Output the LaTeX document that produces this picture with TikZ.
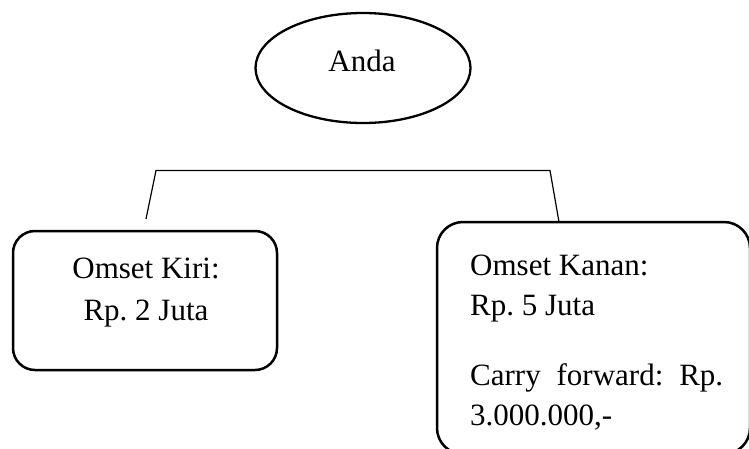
\documentclass[tikz,border=0pt]{standalone}
\usepackage{fontspec}
\setmainfont{Liberation Serif}
\usetikzlibrary{shapes.geometric}
\frenchspacing
\begin{document}
\begin{tikzpicture}[x=1pt,y=-1pt,
  lbl/.style={font=\fontsize{31}{38}\selectfont, inner sep=0pt, anchor=base},
  lbll/.style={lbl, anchor=base west},
  box/.style={draw, line width=2.5pt, inner sep=0pt},
  conn/.style={line width=1.2pt}]
\useasboundingbox (0,0) rectangle (749,448);
\clip (0,0) rectangle (749,448);
% top ellipse
\node[ellipse, draw, line width=2.3pt, minimum width=215pt, minimum height=110pt, inner sep=0pt] (anda) at (363,68) {};
\node[lbl] (andat) at (362,71) {Anda};
% boxes
\node[box, rounded corners=22pt, minimum width=264pt, minimum height=139pt] (kiri) at (145,300.5) {};
\node[box, rounded corners=26pt, minimum width=313pt, minimum height=232pt] (kanan) at (593.5,338) {};
% texts
\node[lbl] (kiri1) at (146,278) {Omset Kiri:};
\node[lbl] (kiri2) at (146,320) {Rp. 2 Juta};
\node[lbll] (kanan1) at (470,275) {Omset Kanan:};
\node[lbll] (kanan2) at (470,315) {Rp. 5 Juta};
\node[lbll] (kanan3) at (470,385) {\makebox[253pt][s]{Carry forward: Rp.}};
\node[lbll] (kanan4) at (470,425) {3.000.000,-};
% connectors
\coordinate (hl) at (156,170.5);
\coordinate (hr) at (550,170.5);
\coordinate (ll) at (146,219);
\coordinate (rl) at (559,222);
\draw[conn] (ll) -- (hl) -- (hr) -- (rl);
\end{tikzpicture}
\end{document}
